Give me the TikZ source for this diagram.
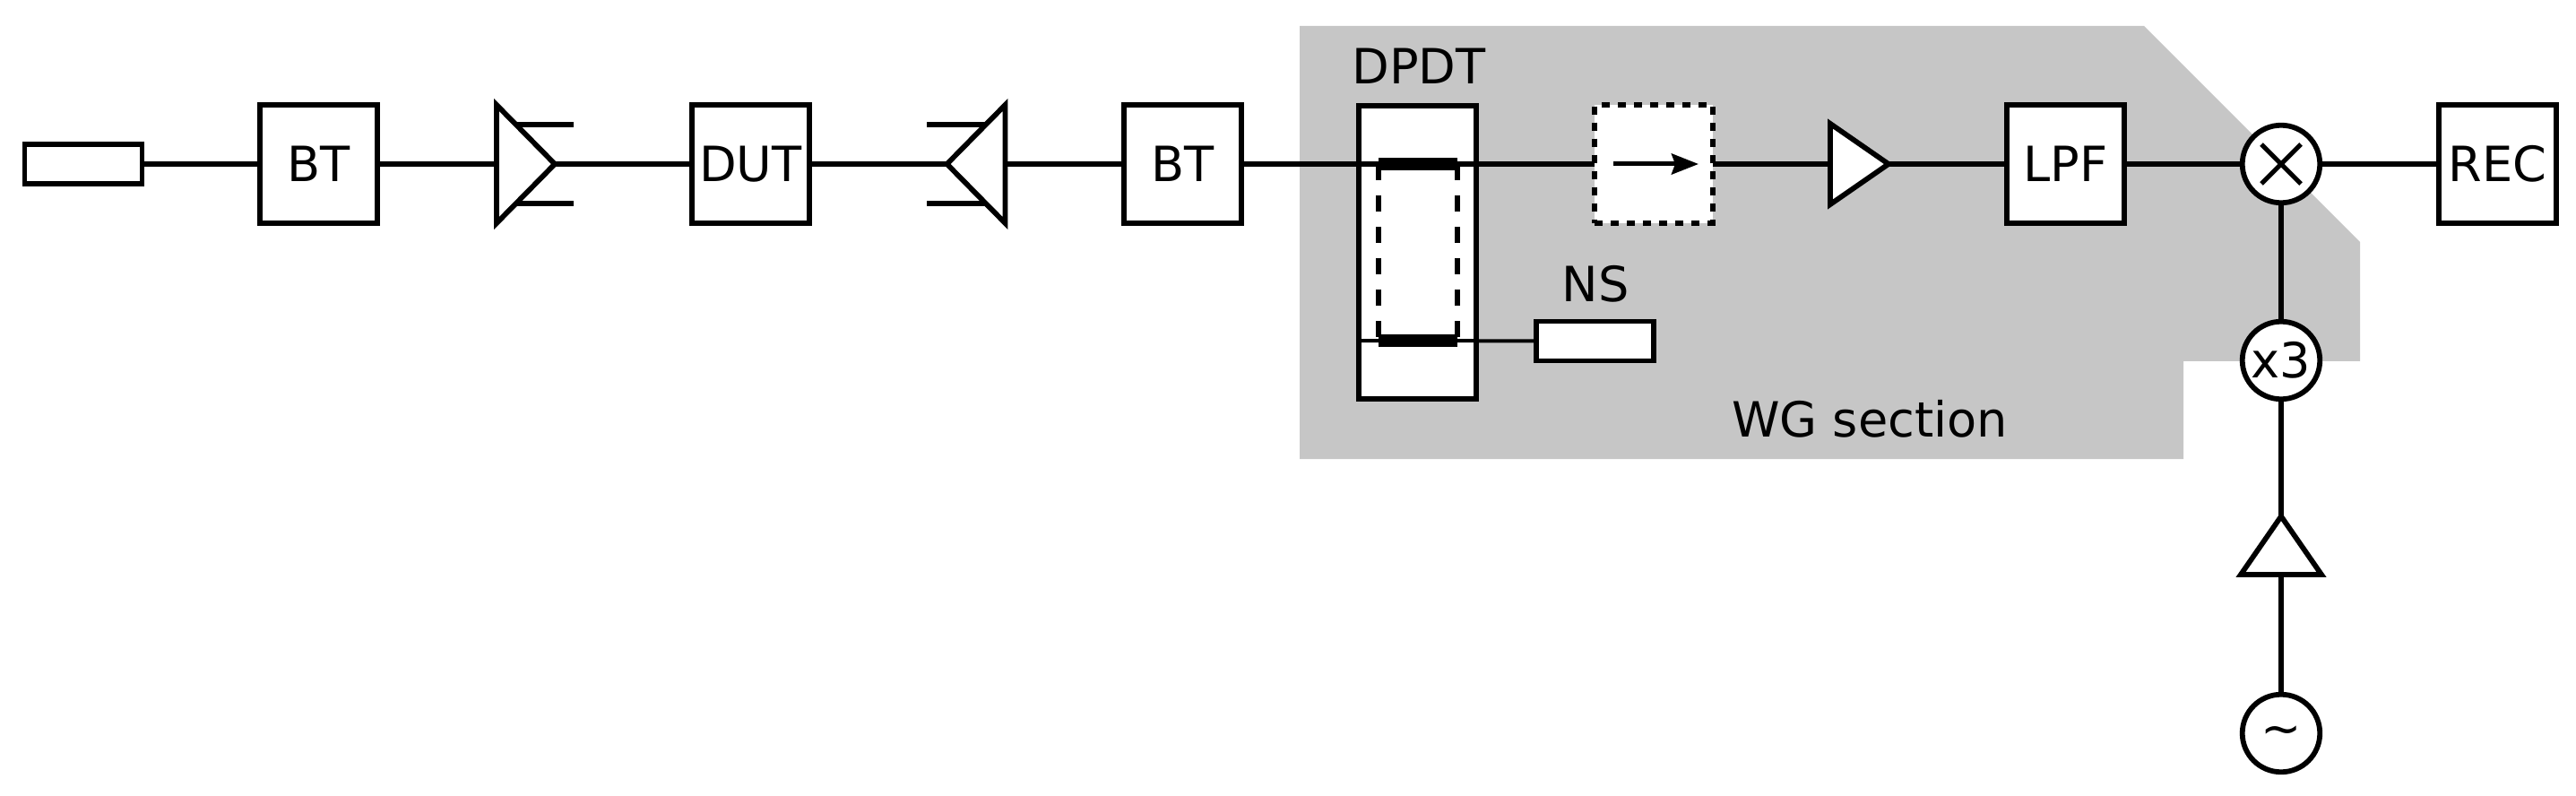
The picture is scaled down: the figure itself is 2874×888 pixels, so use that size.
\documentclass[tikz,border=0pt]{standalone}
\usepackage{fontspec}
\setmainfont{DejaVu Sans}
\usetikzlibrary{arrows.meta,shapes.geometric}
\definecolor{wggray}{HTML}{C6C6C6}
\tikzset{
  wire/.style={
    line width=0.058cm
  },
  block/.style={
    shape = rectangle,
    draw,
    fill = white,
    line width=0.058cm,
    inner sep = 0,
    outer sep = 0,
    minimum size = 1.315cm
  },
  loadbox/.style={
    shape = rectangle,
    draw,
    fill = white,
    line width=0.058cm,
    inner sep = 0,
    outer sep = 0,
    minimum width = 1.31cm,
    minimum height = 0.44cm
  },
  roundel/.style={
    shape = circle,
    draw,
    fill = white,
    line width=0.058cm,
    inner sep = 0,
    outer sep = 0,
    minimum size = 0.865cm
  },
  amp/.style={
    shape = isosceles triangle,
    isosceles triangle stretches,
    draw,
    fill = white,
    line width=0.058cm,
    inner sep = 0,
    outer sep = 0,
    anchor = apex,
    minimum width = #1,
    minimum height = 0.65cm
  },
  every node/.style={
    font=\fontsize{15.4}{18}\selectfont
  }
}
\begin{document}
\begin{tikzpicture}[x=0.01cm,y=-0.01cm]
    \useasboundingbox (0,0) rectangle (2874,888);
    \fill[wggray] (1450,29) -- (2392,29) -- (2633,270) -- (2633,403) -- (2436,403) -- (2436,512) -- (1450,512) -- cycle;
    % switch
    \node[block,minimum width=1.31cm,minimum height=3.27cm] (dpdt) at (1581.5,281.5) {};
    \node at (1583,73.5) {DPDT};
    \foreach \name/\x/\txt in {bt1/355.5/BT,dut/837.5/DUT,bt2/1319.5/BT,lpf/2304.5/LPF,rec/2786.5/REC}{
        \node[block] (\name) at (\x,183) {\txt};
    }
    \node[loadbox] (src) at (93,183) {};
    \node[loadbox] (ns) at (1779.5,380.5) {};
    \node at (1780,317) {NS};
    \node at (2086,467) {WG section};
    \node[block,dash pattern=on 0.09cm off 0.09cm] (iso) at (1845,183) {};
    \node[amp=1.32cm] (am1) at (619,183) {};
    \node[amp=1.32cm,shape border rotate=180] (am2) at (1056.5,183) {};
    \node[amp=0.9cm] (am3) at (2107,183) {};
    \node[amp=0.9cm,shape border rotate=90] (am4) at (2545,576) {};
    \node[roundel] (mix) at (2545,183) {};
    \node[roundel] (x3) at (2545,402) {x3};
    \node[roundel] (osc) at (2545,818) {\raisebox{0pt}[0.27cm][-0.07cm]{∼}};
    \draw[line width=0.05cm] ([shift={(-22,-22)}]mix.center) -- ([shift={(22,22)}]mix.center);
    \draw[line width=0.05cm] ([shift={(-22,22)}]mix.center) -- ([shift={(22,-22)}]mix.center);
    % bias stubs
    \foreach \a/\b/\y in {576/640/139,576/640/227,1099/1034/139,1099/1034/227}{
        \coordinate (sa) at (\a,\y);
        \coordinate (sb) at (\b,\y);
        \draw[wire] (sa) -- (sb);
    }
    \coordinate (arra) at (1800,183);
    \coordinate (arrb) at (1895,183);
    \coordinate (swa) at (1538,183);
    \coordinate (swb) at (1626,183);
    \coordinate (swc) at (1538,380);
    \coordinate (swd) at (1626,380);
    \coordinate (dpl) at (dpdt.west |- swc);
    \draw[wire] (src) -- (bt1);
    \draw[wire] (bt1) -- (am1.lower side);
    \draw[wire] (am1.apex) -- (dut);
    \draw[wire] (dut) -- (am2.apex);
    \draw[wire] (am2.lower side) -- (bt2);
    \draw[wire] (bt2) -- (iso);
    \draw[wire] (iso) -- (am3.lower side);
    \draw[wire] (am3.apex) -- (lpf);
    \draw[wire] (lpf) -- (mix);
    \draw[wire] (mix) -- (rec);
    \draw[wire] (mix) -- (x3);
    \draw[wire] (x3) -- (am4.apex);
    \draw[wire] (am4.lower side) -- (osc);
    \draw[line width=0.04cm] (dpl) -- (ns);
    \foreach \p/\q in {swa/swc,swb/swd}{
        \draw[wire,dash pattern=on 0.175cm off 0.175cm] (\p) -- (\q);
    }
    \draw[line width=0.135cm] (swa) -- (swb);
    \draw[line width=0.135cm] (swc) -- (swd);
    \draw[line width=0.05cm,-{Stealth[length=0.3cm,width=0.23cm,inset=0.04cm]}] (arra) -- (arrb);
\end{tikzpicture}
\end{document}
